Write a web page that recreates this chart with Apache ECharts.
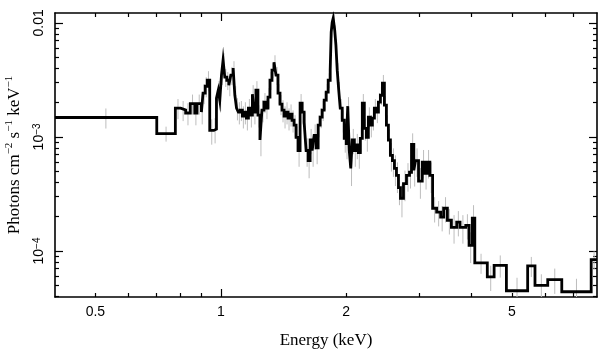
<!DOCTYPE html>
<html><head><meta charset="utf-8">
<script src="https://cdn.jsdelivr.net/npm/echarts@6/dist/echarts.min.js"></script>
<style>html,body{margin:0;padding:0;background:#fff}#c{width:609px;height:359px}</style>
</head><body><div id="c"></div>
<script>
// Bin edges in keV (one more than values)
const energyEdges = [0.4, 0.702, 0.778, 0.801, 0.8235, 0.845, 0.866, 0.877, 0.8985, 0.9065,
  0.9176, 0.9278, 0.9408, 0.9619, 0.9764, 0.9862, 0.9945, 1.0039, 1.0128, 1.0224,
  1.0338, 1.0454, 1.057, 1.0706, 1.0808, 1.091, 1.102, 1.1143, 1.1267, 1.1393,
  1.152, 1.1649, 1.1779, 1.191, 1.201, 1.2144, 1.228, 1.2417, 1.2555, 1.2695,
  1.2837, 1.298, 1.3125, 1.3272, 1.342, 1.3569, 1.3721, 1.3874, 1.4029, 1.4185,
  1.4343, 1.4503, 1.4665, 1.4829, 1.4994, 1.5162, 1.5331, 1.5502, 1.5675, 1.585,
  1.6026, 1.6205, 1.6386, 1.6569, 1.6753, 1.694, 1.7129, 1.732, 1.7513, 1.7709,
  1.7906, 1.8106, 1.8308, 1.841, 1.8512, 1.8615, 1.8771, 1.8896, 1.9033, 1.9192,
  1.9352, 1.9568, 1.9786, 2.0007, 2.0174, 2.0343, 2.0513, 2.0684, 2.0917, 2.115,
  2.1386, 2.1625, 2.1866, 2.211, 2.2357, 2.2606, 2.2858, 2.3113, 2.3371, 2.3632,
  2.3896, 2.4162, 2.4432, 2.4704, 2.498, 2.5259, 2.554, 2.5825, 2.6113, 2.6405,
  2.6699, 2.6997, 2.745, 2.7911, 2.838, 2.8697, 2.9066, 2.9341, 2.9834, 3.0452,
  3.0895, 3.1309, 3.1764, 3.225, 3.2973, 3.3713, 3.4279, 3.499, 3.5775, 3.6842,
  3.7524, 3.873, 3.9445, 4.0152, 4.0713, 4.363, 4.5303, 4.8486, 5.453, 5.6784,
  6.0927, 6.5847, 7.7468, 8.0];
// Photons cm^-2 s^-1 keV^-1 per bin
const fluxValues = [0.00148, 0.00107, 0.00179, 0.00172, 0.00162, 0.00196, 0.00162, 0.00196, 0.00165, 0.00242,
  0.00278, 0.00314, 0.00114, 0.00117, 0.00219, 0.00257, 0.00210, 0.00348, 0.00471, 0.00334,
  0.00314, 0.00284, 0.00348, 0.00401, 0.00232, 0.00179, 0.00165, 0.00172, 0.00152, 0.00165,
  0.00146, 0.00179, 0.00155, 0.00237, 0.00165, 0.00257, 0.00155, 0.00094, 0.00172, 0.00202,
  0.00179, 0.00223, 0.00314, 0.00385, 0.00452, 0.00348, 0.00242, 0.00194, 0.00172, 0.00152,
  0.00165, 0.00146, 0.00158, 0.00140, 0.00127, 0.00099, 0.00076, 0.00198, 0.00165, 0.00135,
  0.00076, 0.00062, 0.00094, 0.00076, 0.00103, 0.00080, 0.00127, 0.00149, 0.00172, 0.00210,
  0.00247, 0.00314, 0.00385, 0.00829, 0.01014, 0.0110, 0.00863, 0.00637, 0.00385, 0.00257,
  0.00179, 0.00140, 0.00097, 0.00085, 0.00186, 0.00076, 0.00053, 0.00094, 0.00076, 0.00085,
  0.00073, 0.00097, 0.00198, 0.00119, 0.00099, 0.00149, 0.00127, 0.00146, 0.00179, 0.00165,
  0.00202, 0.00232, 0.00296, 0.00190, 0.00127, 0.00094, 0.00069, 0.00062, 0.00053, 0.00046,
  0.00036, 0.00029, 0.00039, 0.00046, 0.00049, 0.00086, 0.00051, 0.00062, 0.00041, 0.00060,
  0.00048, 0.00060, 0.00046, 0.000237, 0.000219, 0.000198, 0.000237, 0.000186, 0.000161, 0.000179,
  0.000161, 0.000168, 0.000112, 0.000194, 0.0000788, 0.0000594, 0.0000749, 0.0000448, 0.0000739, 0.0000500,
  0.0000561, 0.0000439, 0.0000841];
// Relative 1-sigma error per bin
const errFrac = [0.2, 0.15, 0.2, 0.2, 0.22, 0.2, 0.22, 0.2, 0.22, 0.2,
  0.2, 0.2, 0.25, 0.25, 0.2, 0.2, 0.2, 0.18, 0.15, 0.18,
  0.18, 0.2, 0.18, 0.15, 0.2, 0.22, 0.22, 0.2, 0.22, 0.22,
  0.22, 0.2, 0.22, 0.2, 0.22, 0.2, 0.22, 0.28, 0.22, 0.2,
  0.2, 0.2, 0.18, 0.15, 0.15, 0.18, 0.2, 0.2, 0.22, 0.22,
  0.22, 0.22, 0.22, 0.22, 0.22, 0.25, 0.28, 0.2, 0.22, 0.22,
  0.28, 0.3, 0.25, 0.28, 0.25, 0.28, 0.22, 0.2, 0.2, 0.18,
  0.18, 0.15, 0.15, 0.1, 0.1, 0.1, 0.1, 0.12, 0.15, 0.18,
  0.2, 0.22, 0.25, 0.25, 0.2, 0.28, 0.3, 0.25, 0.28, 0.25,
  0.28, 0.25, 0.2, 0.22, 0.25, 0.22, 0.22, 0.22, 0.2, 0.2,
  0.2, 0.18, 0.18, 0.2, 0.22, 0.25, 0.28, 0.28, 0.3, 0.3,
  0.3, 0.32, 0.3, 0.28, 0.28, 0.25, 0.28, 0.28, 0.3, 0.28,
  0.28, 0.28, 0.3, 0.25, 0.25, 0.25, 0.25, 0.25, 0.28, 0.25,
  0.28, 0.25, 0.3, 0.3, 0.2, 0.25, 0.22, 0.3, 0.2, 0.25,
  0.25, 0.3, 0.18];

const xRange = [0.4, 8];
const yRange = [3.95e-5, 0.0122];
const xLabelValues = [0.5, 1, 2, 5];
const xLabelTexts = ['0.5', '1', '2', '5'];
const xMajorTicks = [1];
const xMinorTicks = [0.5, 0.6, 0.7, 0.8, 0.9, 2, 3, 4, 5, 6, 7];
const yLabelValues = [1e-4, 1e-3, 1e-2];
const yLabelTexts = ['10{s|\u22124}', '10{s|\u22123}', '0.01'];
const yMajorTicks = [1e-4, 1e-3, 1e-2];
const yMinorTicks = [4e-5, 5e-5, 6e-5, 7e-5, 8e-5, 9e-5,
  2e-4, 3e-4, 4e-4, 5e-4, 6e-4, 7e-4, 8e-4, 9e-4,
  2e-3, 3e-3, 4e-3, 5e-3, 6e-3, 7e-3, 8e-3, 9e-3];
const xTitle = 'Energy (keV)';
const yTitle = 'Photons cm{s|\u22122} s{s|\u22121} keV{s|\u22121}';

function pick(vals, texts, v) {
  for (let i = 0; i < vals.length; i++) {
    if (Math.abs(Math.log10(v / vals[i])) < 1e-6) return texts[i];
  }
  return '';
}

const SANS = 'Liberation Sans, Arial, sans-serif';
const SERIF = 'Liberation Serif, Times New Roman, serif';
const AX = '#000';

function makeAxis(kind, pos, ticks, len, showLine, labels) {
  const range = kind === 'x' ? xRange : yRange;
  const ax = {
    type: 'log', logBase: 10, gridIndex: 0, position: pos,
    min: range[0], max: range[1],
    axisLine: { show: showLine, onZero: false, lineStyle: { color: AX, width: 1.6 } },
    axisTick: { show: true, inside: true, length: len, customValues: ticks, lineStyle: { color: AX, width: 1.2 } },
    axisLabel: { show: false },
    splitLine: { show: false }, minorTick: { show: false }, minorSplitLine: { show: false }
  };
  if (labels) {
    if (kind === 'x') {
      ax.axisLabel = {
        show: true, customValues: xLabelValues, margin: 8,
        fontFamily: SANS, fontSize: 14, color: '#000',
        formatter: v => pick(xLabelValues, xLabelTexts, v)
      };
      ax.name = xTitle; ax.nameLocation = 'middle'; ax.nameGap = 35;
      ax.nameTextStyle = { fontFamily: SERIF, fontSize: 17, color: '#000' };
    } else {
      ax.axisLabel = {
        show: true, customValues: yLabelValues, margin: 9, rotate: 90,
        fontFamily: SANS, fontSize: 14, color: '#000',
        formatter: v => pick(yLabelValues, yLabelTexts, v),
        rich: { s: { fontFamily: SANS, fontSize: 10, color: '#000', verticalAlign: 'top', lineHeight: 10 } }
      };
      ax.name = yTitle; ax.nameLocation = 'middle'; ax.nameGap = 24;
      ax.nameTextStyle = {
        fontFamily: SERIF, fontSize: 17, color: '#000', lineHeight: 20,
        rich: { s: { fontFamily: SERIF, fontSize: 11, color: '#000', verticalAlign: 'top', lineHeight: 11 } }
      };
    }
  }
  return ax;
}

const stepData = energyEdges.map((e, i) => [e, fluxValues[Math.min(i, fluxValues.length - 1)]]);
const errData = fluxValues.map((v, i) => {
  const c = Math.sqrt(energyEdges[i] * energyEdges[i + 1]);
  return [c, v * (1 - errFrac[i]), v * (1 + errFrac[i])];
});

const chart = echarts.init(document.getElementById('c'), null, { renderer: 'canvas' });
chart.setOption({
  animation: false,
  backgroundColor: '#fff',
  grid: { left: 55, right: 12, top: 13, bottom: 62, containLabel: false, outerBoundsMode: 'none' },
  xAxis: [
    makeAxis('x', 'bottom', xMinorTicks, 4, true, true),
    makeAxis('x', 'bottom', xMajorTicks, 8, false, false),
    makeAxis('x', 'top', xMinorTicks, 4, true, false),
    makeAxis('x', 'top', xMajorTicks, 8, false, false)
  ],
  yAxis: [
    makeAxis('y', 'left', yMinorTicks, 4, true, true),
    makeAxis('y', 'left', yMajorTicks, 8, false, false),
    makeAxis('y', 'right', yMinorTicks, 4, true, false),
    makeAxis('y', 'right', yMajorTicks, 8, false, false)
  ],
  series: [
    {
      type: 'custom', xAxisIndex: 0, yAxisIndex: 0, clip: true, z: 2,
      encode: { x: 0, y: [1, 2] },
      data: errData,
      renderItem: function (params, api) {
        const x = api.value(0);
        const p1 = api.coord([x, api.value(1)]);
        const p2 = api.coord([x, api.value(2)]);
        return { type: 'line', shape: { x1: p1[0], y1: p1[1], x2: p2[0], y2: p2[1] },
          style: { stroke: '#bdbdbd', lineWidth: 1 } };
      }
    },
    {
      type: 'line', xAxisIndex: 0, yAxisIndex: 0, step: 'end', z: 3,
      data: stepData, showSymbol: false, symbol: 'none', clip: true,
      lineStyle: { color: '#000', width: 2.8, join: 'miter' }
    }
  ]
});
</script></body></html>
